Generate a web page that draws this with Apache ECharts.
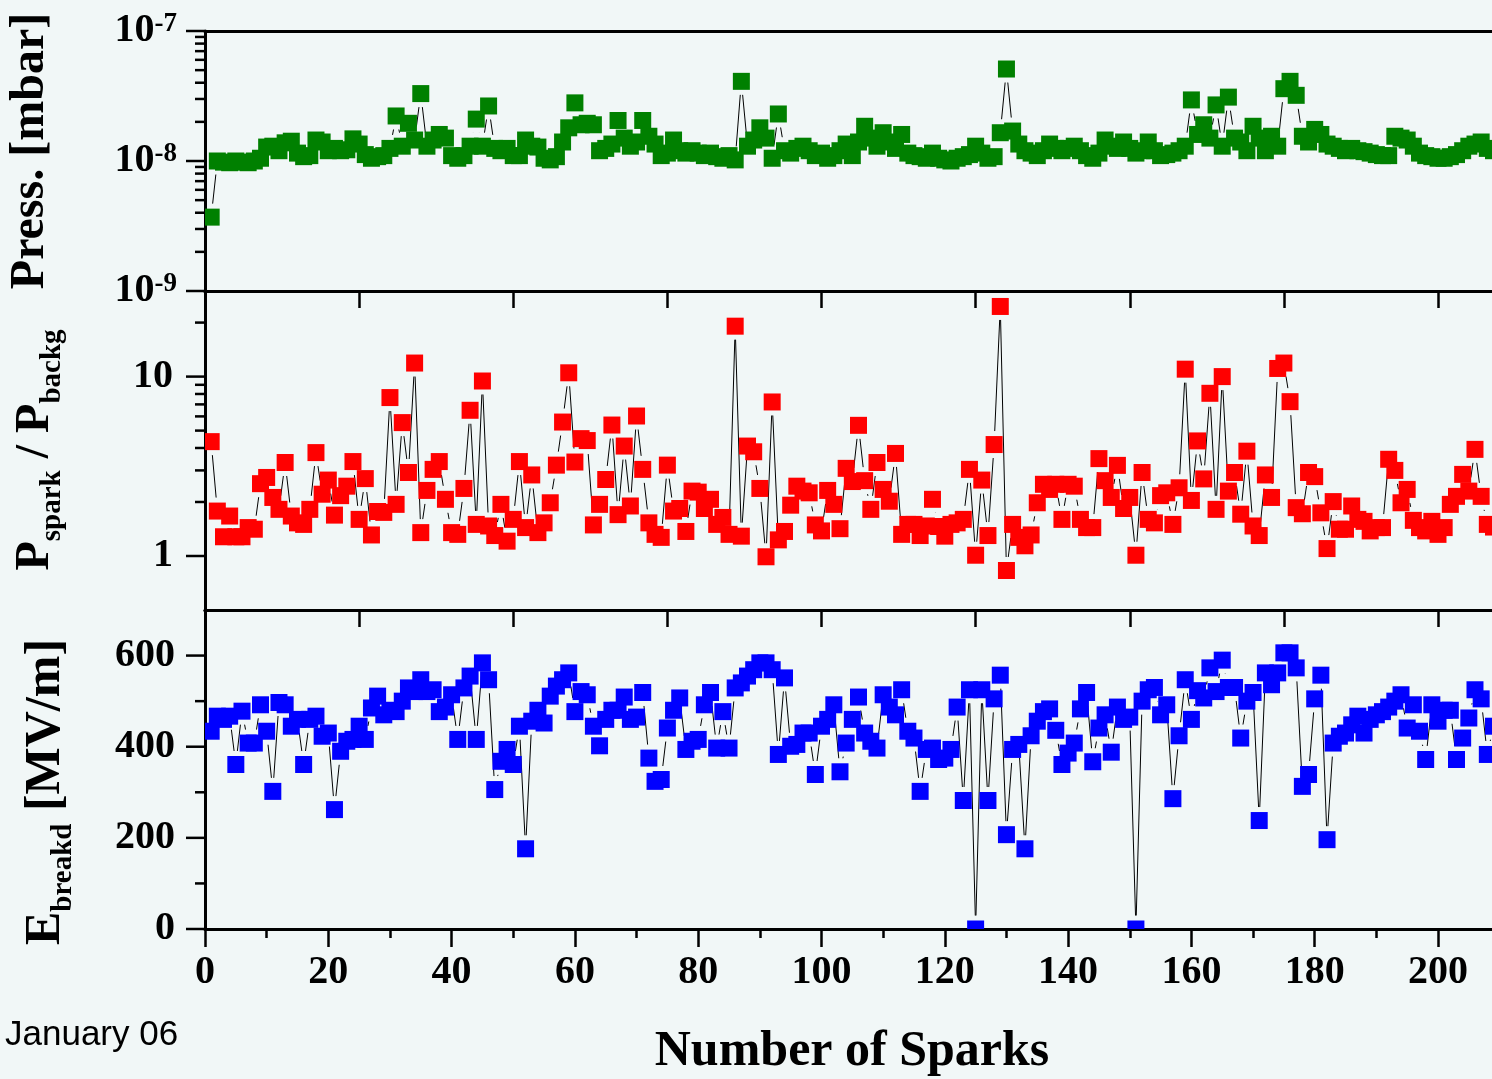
<!DOCTYPE html>
<html>
<head>
<meta charset="utf-8">
<title>Sparks</title>
<script src="https://cdn.jsdelivr.net/npm/echarts@6/dist/echarts.min.js"></script>
<style>
  html, body { margin: 0; padding: 0; background: #f1f7f7; }
  #chart { width: 1492px; height: 1079px; }
</style>
</head>
<body>
<div id="chart"></div>
<script>
// spark number on the x axis (1 .. 209)
const sparkNo = [];
for (let i = 1; i <= 209; i++) sparkNo.push(i);

// pressure after each spark [mbar]
const pressure = [
  0.37e-8, 1.0e-8, 0.98e-8, 0.97e-8, 1.0e-8, 0.98e-8, 0.97e-8, 1.0e-8, 1.05e-8, 1.28e-8,
  1.3e-8, 1.2e-8, 1.38e-8, 1.42e-8, 1.15e-8, 1.08e-8, 1.1e-8, 1.45e-8, 1.4e-8, 1.2e-8,
  1.25e-8, 1.2e-8, 1.22e-8, 1.48e-8, 1.35e-8, 1.12e-8, 1.05e-8, 1.08e-8, 1.1e-8, 1.25e-8,
  2.22e-8, 1.3e-8, 1.95e-8, 1.45e-8, 3.3e-8, 1.3e-8, 1.45e-8, 1.6e-8, 1.5e-8, 1.1e-8,
  1.05e-8, 1.1e-8, 1.3e-8, 2.1e-8, 1.3e-8, 2.65e-8, 1.25e-8, 1.2e-8, 1.25e-8, 1.1e-8,
  1.1e-8, 1.45e-8, 1.3e-8, 1.28e-8, 1.05e-8, 1.02e-8, 1.08e-8, 1.4e-8, 1.8e-8, 2.8e-8,
  1.9e-8, 1.95e-8, 1.9e-8, 1.2e-8, 1.25e-8, 1.35e-8, 2.05e-8, 1.5e-8, 1.3e-8, 1.4e-8,
  2.05e-8, 1.55e-8, 1.35e-8, 1.1e-8, 1.15e-8, 1.45e-8, 1.2e-8, 1.15e-8, 1.2e-8, 1.15e-8,
  1.1e-8, 1.15e-8, 1.08e-8, 1.05e-8, 1.1e-8, 1.02e-8, 4.1e-8, 1.3e-8, 1.45e-8, 1.8e-8,
  1.5e-8, 1.05e-8, 2.3e-8, 1.2e-8, 1.15e-8, 1.25e-8, 1.3e-8, 1.2e-8, 1.1e-8, 1.15e-8,
  1.05e-8, 1.1e-8, 1.2e-8, 1.35e-8, 1.1e-8, 1.4e-8, 1.85e-8, 1.5e-8, 1.3e-8, 1.65e-8,
  1.4e-8, 1.25e-8, 1.6e-8, 1.15e-8, 1.1e-8, 1.08e-8, 1.05e-8, 1.15e-8, 1.05e-8, 1.02e-8,
  1.0e-8, 1.05e-8, 1.08e-8, 1.12e-8, 1.3e-8, 1.15e-8, 1.05e-8, 1.08e-8, 1.65e-8, 5.1e-8,
  1.7e-8, 1.35e-8, 1.2e-8, 1.15e-8, 1.1e-8, 1.2e-8, 1.35e-8, 1.25e-8, 1.2e-8, 1.25e-8,
  1.3e-8, 1.2e-8, 1.1e-8, 1.05e-8, 1.15e-8, 1.45e-8, 1.3e-8, 1.25e-8, 1.4e-8, 1.25e-8,
  1.15e-8, 1.2e-8, 1.4e-8, 1.2e-8, 1.1e-8, 1.12e-8, 1.15e-8, 1.2e-8, 1.3e-8, 2.95e-8,
  1.6e-8, 1.9e-8, 1.5e-8, 2.7e-8, 1.3e-8, 3.1e-8, 1.5e-8, 1.4e-8, 1.2e-8, 1.85e-8,
  1.5e-8, 1.2e-8, 1.55e-8, 1.3e-8, 3.6e-8, 4.1e-8, 3.2e-8, 1.55e-8, 1.4e-8, 1.75e-8,
  1.6e-8, 1.35e-8, 1.3e-8, 1.25e-8, 1.2e-8, 1.25e-8, 1.2e-8, 1.18e-8, 1.15e-8, 1.12e-8,
  1.1e-8, 1.1e-8, 1.55e-8, 1.5e-8, 1.45e-8, 1.3e-8, 1.15e-8, 1.1e-8, 1.08e-8, 1.05e-8,
  1.05e-8, 1.08e-8, 1.12e-8, 1.2e-8, 1.3e-8, 1.35e-8, 1.4e-8, 1.25e-8, 1.2e-8
];

// P spark / P background
const pressRatio = [
  4.34, 1.78, 1.28, 1.67, 1.28, 1.28, 1.44, 1.41, 2.53, 2.74,
  2.12, 1.82, 3.32, 1.67, 1.53, 1.5, 1.82, 3.77, 2.21, 2.65,
  1.69, 2.17, 2.45, 3.36, 1.6, 2.7, 1.31, 1.77, 1.75, 7.64,
  1.94, 5.54, 2.92, 11.9, 1.35, 2.32, 3.04, 3.36, 2.07, 1.35,
  1.32, 2.38, 6.49, 1.5, 9.45, 1.47, 1.3, 1.94, 1.21, 1.6,
  3.36, 1.44, 2.83, 1.35, 1.53, 1.98, 3.21, 5.58, 10.5, 3.34,
  4.51, 4.4, 1.49, 1.94, 2.67, 5.37, 1.7, 4.1, 1.9, 6.03,
  3.04, 1.53, 1.32, 1.27, 3.21, 1.78, 1.84, 1.37, 2.3, 2.27,
  1.84, 2.07, 1.5, 1.64, 1.32, 19.1, 1.29, 4.1, 3.81, 2.38,
  0.99, 7.22, 1.23, 1.37, 1.92, 2.45, 2.3, 2.25, 1.49, 1.38,
  2.32, 1.94, 1.42, 3.08, 2.6, 5.35, 2.63, 1.82, 3.32, 2.35,
  2.02, 3.73, 1.32, 1.5, 1.5, 1.3, 1.47, 2.07, 1.46, 1.29,
  1.5, 1.53, 1.6, 3.04, 1.01, 2.65, 1.3, 4.18, 24.6, 0.83,
  1.5, 1.27, 1.14, 1.31, 1.98, 2.51, 2.35, 2.51, 1.6, 2.51,
  2.45, 1.6, 1.44, 1.44, 3.49, 2.63, 2.12, 3.2, 1.84, 2.12,
  1.01, 2.92, 1.6, 1.53, 2.17, 2.25, 1.5, 2.4, 11.0, 2.04,
  4.38, 2.69, 8.07, 1.82, 10.0, 2.3, 2.92, 1.71, 3.84, 1.47,
  1.3, 2.83, 2.12, 11.1, 11.9, 7.25, 1.86, 1.72, 2.92, 2.77,
  1.74, 1.1, 2.01, 1.41, 1.41, 1.9, 1.6, 1.56, 1.38, 1.44,
  1.44, 3.46, 3.0, 1.98, 2.35, 1.58, 1.44, 1.38, 1.56, 1.32,
  1.44, 1.94, 2.15, 2.85, 2.3, 3.93, 2.15, 1.5, 1.45
];

// breakdown field [MV/m]
const breakdownField = [
  434, 467, 460, 467, 361, 478, 408, 408, 492, 434,
  302, 497, 492, 445, 460, 361, 460, 467, 423, 430,
  262, 390, 412, 416, 445, 416, 485, 511, 470, 480,
  477, 500, 529, 521, 547, 521, 525, 477, 487, 514,
  416, 529, 555, 416, 584, 547, 306, 368, 394, 361,
  445, 176, 456, 480, 452, 511, 533, 547, 562, 477,
  521, 514, 445, 402, 460, 480, 480, 509, 460, 465,
  519, 375, 324, 328, 441, 480, 507, 394, 412, 416,
  492, 519, 397, 477, 397, 529, 540, 555, 569, 584,
  584, 569, 383, 551, 401, 405, 430, 430, 339, 445,
  460, 492, 345, 408, 460, 509, 430, 412, 397, 514,
  487, 470, 525, 434, 419, 302, 394, 397, 372, 375,
  394, 487, 282, 525, 0, 525, 282, 505, 557, 207,
  394, 405, 176, 424, 456, 477, 483, 436, 361, 386,
  408, 483, 519, 367, 441, 470, 388, 487, 460, 465,
  0, 500, 525, 530, 470, 492, 286, 424, 547, 460,
  523, 507, 573, 521, 590, 530, 530, 419, 500, 519,
  238, 562, 536, 562, 606, 606, 573, 313, 339, 505,
  557, 196, 408, 423, 430, 448, 467, 430, 460, 470,
  477, 487, 500, 514, 441, 492, 434, 372, 492, 456,
  480, 480, 372, 419, 463, 525, 505, 383, 445
];

// left axis tick positions
const pressMajorTicks = [1e-9, 1e-8, 1e-7];
const pressMinorTicks = [2e-9, 3e-9, 4e-9, 5e-9, 6e-9, 7e-9, 8e-9, 9e-9,
                         2e-8, 3e-8, 4e-8, 5e-8, 6e-8, 7e-8, 8e-8, 9e-8];
const ratioMajorTicks = [1, 10];
const ratioMinorTicks = [2, 3, 4, 5, 6, 7, 8, 9, 20];
const fieldMajorTicks = [0, 200, 400, 600];
const fieldMinorTicks = [100, 300, 500];

const SERIF = '"Liberation Serif", "Times New Roman", serif';
const HALF = 8.5;   // half size of a square marker
const GAP = 5;      // gap between connecting line and marker

const chart = echarts.init(document.getElementById('chart'));

function points(ys) {
  return ys.map((v, i) => [sparkNo[i], v]);
}
function segments(ys) {
  const out = [];
  for (let i = 0; i < ys.length - 1; i++) {
    out.push([sparkNo[i], ys[i], sparkNo[i + 1], ys[i + 1]]);
  }
  return out;
}
function tickData(major, minor) {
  return major.map(v => [0, v, 19]).concat(minor.map(v => [0, v, 10]));
}

// connecting line, stopped short of both markers (Origin style gaps)
function renderSegment(params, api) {
  const a = api.coord([api.value(0), api.value(1)]);
  const b = api.coord([api.value(2), api.value(3)]);
  const dx = b[0] - a[0], dy = b[1] - a[1];
  const h = HALF + GAP;
  const tx = Math.abs(dx) > 0 ? h / Math.abs(dx) : Infinity;
  const ty = Math.abs(dy) > 0 ? h / Math.abs(dy) : Infinity;
  const t = Math.min(tx, ty);
  if (2 * t >= 1) return null;
  return {
    type: 'line',
    shape: { x1: a[0] + dx * t, y1: a[1] + dy * t, x2: b[0] - dx * t, y2: b[1] - dy * t },
    style: { stroke: '#000', lineWidth: 1 }
  };
}

function squareRenderer(color) {
  return function (params, api) {
    const p = api.coord([api.value(0), api.value(1)]);
    return {
      type: 'rect',
      shape: { x: p[0] - HALF, y: p[1] - HALF, width: HALF * 2, height: HALF * 2 },
      style: { fill: color }
    };
  };
}

function renderTick(params, api) {
  const p = api.coord([api.value(0), api.value(1)]);
  const len = api.value(2);
  return {
    type: 'line',
    shape: { x1: p[0] - len, y1: p[1], x2: p[0], y2: p[1] },
    style: { stroke: '#000', lineWidth: 2.5 }
  };
}

function panelSeries(idx, ys, color, ticks) {
  return [
    { type: 'custom', xAxisIndex: idx, yAxisIndex: idx, renderItem: renderSegment,
      data: segments(ys), clip: true, silent: true, z: 2 },
    { type: 'custom', xAxisIndex: idx, yAxisIndex: idx, renderItem: squareRenderer(color),
      data: points(ys), clip: true, silent: true, z: 3 },
    { type: 'custom', xAxisIndex: idx, yAxisIndex: idx, renderItem: renderTick,
      data: ticks, clip: false, silent: true, z: 4 }
  ];
}

const axisLine = { show: true, lineStyle: { color: '#000', width: 3 } };
const plainX = (grid, pos) => ({
  type: 'value', gridIndex: grid, position: pos, min: 0, max: 220,
  axisLine: axisLine, axisTick: { show: false }, axisLabel: { show: false },
  splitLine: { show: false }
});
const innerTopX = grid => ({
  type: 'value', gridIndex: grid, position: 'top', min: 0, max: 220, interval: 25,
  axisLine: axisLine,
  axisTick: { show: true, inside: true, length: 17, lineStyle: { color: '#000', width: 2.5 } },
  axisLabel: { show: false }, splitLine: { show: false }
});

const gridBase = { left: 205, width: 1356.3, outerBoundsMode: 'none', containLabel: false };

const option = {
  backgroundColor: '#f1f7f7',
  animation: false,
  grid: [
    Object.assign({ top: 31, height: 260 }, gridBase),
    Object.assign({ top: 291, height: 319 }, gridBase),
    Object.assign({ top: 610, height: 319 }, gridBase)
  ],
  xAxis: [
    plainX(0, 'bottom'),
    plainX(1, 'bottom'),
    {
      type: 'value', gridIndex: 2, position: 'bottom', min: 0, max: 220, interval: 20,
      axisLine: axisLine,
      axisTick: { show: true, length: 18, lineStyle: { color: '#000', width: 2.5 } },
      minorTick: { show: true, splitNumber: 2, length: 9, lineStyle: { color: '#000', width: 2.5 } },
      axisLabel: {
        margin: 24, color: '#000', fontFamily: SERIF, fontWeight: 'bold', fontSize: 40,
        showMaxLabel: false
      },
      splitLine: { show: false }, minorSplitLine: { show: false }
    },
    plainX(0, 'top'),
    innerTopX(1),
    innerTopX(2)
  ],
  yAxis: [
    {
      type: 'log', gridIndex: 0, min: 1e-9, max: 1e-7, logBase: 10,
      axisLine: axisLine, axisTick: { show: false }, splitLine: { show: false },
      axisLabel: {
        margin: 28,
        formatter: v => '{b|10}{s|' + Math.round(Math.log10(v)) + '}',
        rich: {
          b: { fontFamily: SERIF, fontWeight: 'bold', fontSize: 40, color: '#000' },
          s: { fontFamily: SERIF, fontWeight: 'bold', fontSize: 27, color: '#000', verticalAlign: 'top' }
        }
      }
    },
    {
      type: 'log', gridIndex: 1, min: 0.5, max: 30, logBase: 10,
      axisLine: axisLine, axisTick: { show: false }, splitLine: { show: false },
      axisLabel: {
        margin: 32, color: '#000', fontFamily: SERIF, fontWeight: 'bold', fontSize: 40,
        formatter: v => {
          const e = Math.log10(v);
          return Math.abs(e - Math.round(e)) < 1e-6 ? String(Math.round(v)) : '';
        }
      }
    },
    {
      type: 'value', gridIndex: 2, min: 0, max: 700, interval: 200,
      axisLine: axisLine, axisTick: { show: false }, splitLine: { show: false },
      axisLabel: {
        margin: 30, color: '#000', fontFamily: SERIF, fontWeight: 'bold', fontSize: 40,
        formatter: v => (v <= 600 && v % 200 === 0 ? String(v) : '')
      }
    }
  ],
  series: [].concat(
    panelSeries(0, pressure, '#008000', tickData(pressMajorTicks, pressMinorTicks)),
    panelSeries(1, pressRatio, '#ff0000', tickData(ratioMajorTicks, ratioMinorTicks)),
    panelSeries(2, breakdownField, '#0000ff', tickData(fieldMajorTicks, fieldMinorTicks))
  ),
  graphic: [
    {
      type: 'text', x: 31, y: 151, rotation: Math.PI / 2,
      style: {
        text: 'Press. [mbar]', fill: '#000',
        font: 'bold 48px ' + SERIF, align: 'center', verticalAlign: 'middle',
        textAlign: 'center', textVerticalAlign: 'middle'
      }
    },
    {
      type: 'text', x: 36, y: 450, rotation: Math.PI / 2,
      style: {
        text: '{b|P}{sub|spark}{b| / P}{sub|backg}', fill: '#000',
        align: 'center', verticalAlign: 'middle',
        textAlign: 'center', textVerticalAlign: 'middle',
        rich: {
          b: { fontFamily: SERIF, fontWeight: 'bold', fontSize: 48, lineHeight: 62, fill: '#000' },
          sub: { fontFamily: SERIF, fontWeight: 'bold', fontSize: 29, fill: '#000', verticalAlign: 'bottom' }
        }
      }
    },
    {
      type: 'text', x: 46, y: 792, rotation: Math.PI / 2,
      style: {
        text: '{b|E}{sub|breakd}{b| [MV/m]}', fill: '#000',
        align: 'center', verticalAlign: 'middle',
        textAlign: 'center', textVerticalAlign: 'middle',
        rich: {
          b: { fontFamily: SERIF, fontWeight: 'bold', fontSize: 50, lineHeight: 64, fill: '#000' },
          sub: { fontFamily: SERIF, fontWeight: 'bold', fontSize: 29, fill: '#000', verticalAlign: 'bottom' }
        }
      }
    },
    {
      type: 'text', x: 852, y: 1052,
      style: {
        text: 'Number of Sparks', fill: '#000', font: 'bold 50px ' + SERIF,
        align: 'center', verticalAlign: 'middle', textAlign: 'center', textVerticalAlign: 'middle'
      }
    },
    {
      type: 'text', x: 5, y: 1035,
      style: {
        text: 'January 06', fill: '#000', font: '35px "Liberation Sans", Arial, sans-serif',
        align: 'left', verticalAlign: 'middle', textAlign: 'left', textVerticalAlign: 'middle'
      }
    }
  ]
};

chart.setOption(option);
</script>
</body>
</html>
